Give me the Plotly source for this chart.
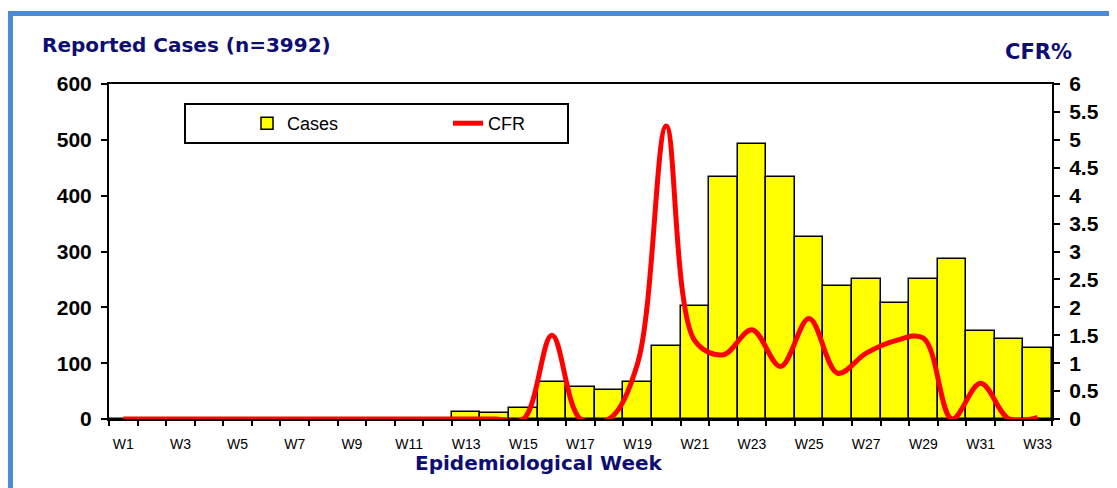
import plotly.graph_objects as go

weeks = ["W%d" % i for i in range(1, 34)]
cases = [0, 0, 0, 0, 0, 0, 0, 0, 0, 0, 0, 0, 13, 10, 20, 67, 57, 52, 67, 131,
         203, 433, 492, 433, 326, 239, 250, 207, 250, 286, 157, 143, 128]
cfr = [0, 0, 0, 0, 0, 0, 0, 0, 0, 0, 0, 0, 0, 0, 0, 1.5, 0, 0, 1.0, 5.25,
       1.4, 1.15, 1.6, 0.94, 1.8, 0.82, 1.18, 1.4, 1.45, 0, 0.64, 0, 0.03]
left_ticks = [0, 100, 200, 300, 400, 500, 600]
right_ticks = [0, 0.5, 1, 1.5, 2, 2.5, 3, 3.5, 4, 4.5, 5, 5.5, 6]

xi = list(range(1, len(weeks) + 1))
label_idx = xi[::2]
label_txt = weeks[::2]

# page is offset by the 8px body margin of the html page
O = 8
PW, PH = 1117, 488
W, H = PW - O, PH - O
# plot area in page coordinates
PL, PR, PT, PB = 109, 1052, 84, 419
L, R, T, B = PL - O, PR - O, PT - O, PB - O


def px(x):
    return (x - PL) / (PR - PL)


def py(y):
    return (PB - y) / (PB - PT)


navy = "#0d0d73"

fig = go.Figure()
fig.add_trace(go.Bar(
    x=xi, y=cases, name="Cases",
    marker=dict(color="#ffff00", line=dict(color="black", width=1.5)),
))
fig.add_trace(go.Scatter(
    x=xi, y=cfr, name="CFR", yaxis="y2", mode="lines",
    line=dict(color="#ff0000", width=5, shape="spline", smoothing=1.0),
))

fig.update_layout(
    width=W, height=H,
    margin=dict(l=L, r=W - R, t=T, b=H - B, pad=0),
    paper_bgcolor="white", plot_bgcolor="white",
    bargap=0,
    showlegend=True,
    legend=dict(
        orientation="h", x=px(247), y=py(105), xanchor="left", yanchor="top",
        bgcolor="rgba(0,0,0,0)", borderwidth=0,
        font=dict(family="Liberation Sans, Arial", size=18, color="black"),
        entrywidth=156, entrywidthmode="pixels",
    ),
    xaxis=dict(
        range=[0.5, len(weeks) + 0.5],
        tickvals=label_idx, ticktext=label_txt,
        ticks="", showgrid=False, zeroline=False,
        showline=True, linecolor="black", linewidth=2, mirror=True,
        tickfont=dict(family="Liberation Sans, Arial", size=14, color="black"),
        ticklabelstandoff=11,
        minor=dict(tickvals=[i + 0.5 for i in range(0, len(weeks) + 1)],
                   ticks="outside", ticklen=5, tickwidth=2, tickcolor="black"),
    ),
    yaxis=dict(
        range=[0, 600], tickvals=left_ticks,
        ticks="outside", ticklen=6, tickwidth=2, tickcolor="black",
        showgrid=False, zeroline=False,
        showline=True, linecolor="black", linewidth=2,
        tickfont=dict(family="Liberation Sans, Arial", size=21, color="black", weight="bold"),
        ticklabelstandoff=5,
    ),
    yaxis2=dict(
        range=[0, 6], tickvals=right_ticks, overlaying="y", side="right",
        ticks="outside", ticklen=6, tickwidth=2, tickcolor="black",
        showgrid=False, zeroline=False,
        showline=True, linecolor="black", linewidth=2,
        tickfont=dict(family="Liberation Sans, Arial", size=21, color="black", weight="bold"),
        ticklabelstandoff=5,
    ),
    shapes=[
        dict(type="line", xref="paper", yref="paper",
             x0=px(8), x1=px(PW + 5), y0=py(13.5), y1=py(13.5),
             line=dict(color="#4a8ad8", width=5)),
        dict(type="line", xref="paper", yref="paper",
             x0=px(10.5), x1=px(10.5), y0=py(11), y1=py(PH + 5),
             line=dict(color="#4a8ad8", width=5)),
        dict(type="rect", xref="paper", yref="paper",
             x0=px(185), x1=px(568), y0=py(104), y1=py(143),
             line=dict(color="black", width=2), fillcolor="rgba(0,0,0,0)"),
    ],
    annotations=[
        dict(text="Reported Cases (n=3992)", xref="paper", yref="paper",
             x=px(40), y=py(45), xanchor="left", yanchor="middle", showarrow=False,
             font=dict(family="DejaVu Sans", size=20, color=navy, weight="bold")),
        dict(text="CFR%", xref="paper", yref="paper",
             x=px(1038), y=py(52), xanchor="center", yanchor="middle", showarrow=False,
             font=dict(family="DejaVu Sans", size=21, color=navy, weight="bold")),
        dict(text="Epidemiological Week", xref="paper", yref="paper",
             x=px(539), y=py(463), xanchor="center", yanchor="middle", showarrow=False,
             font=dict(family="DejaVu Sans", size=20, color=navy, weight="bold")),
    ],
)

fig.write_html("out.html")
